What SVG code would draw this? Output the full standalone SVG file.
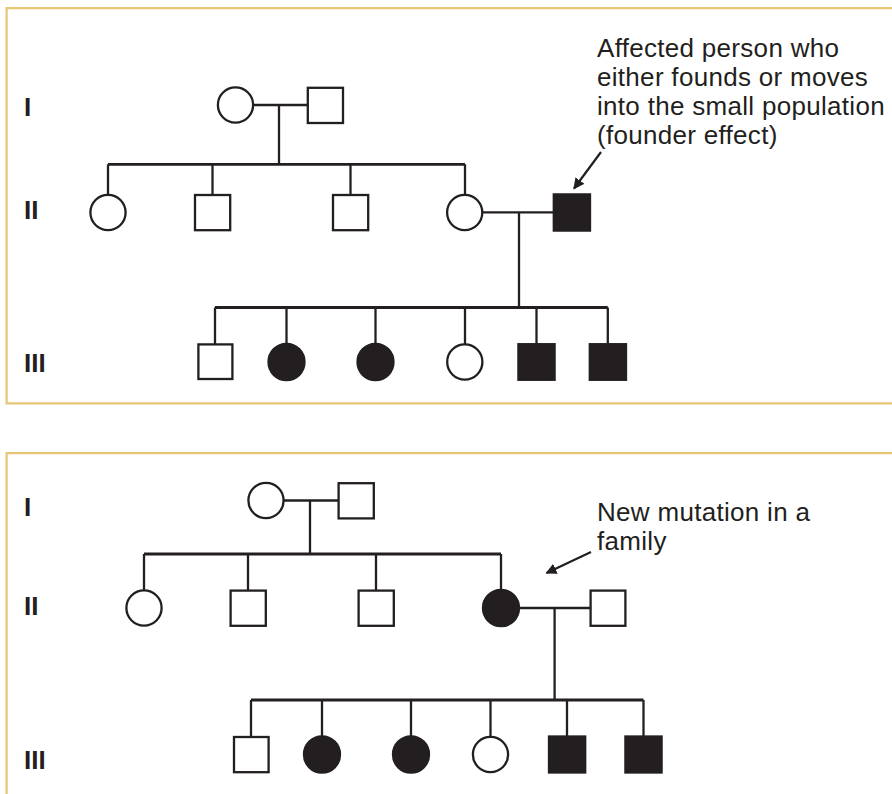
<svg xmlns="http://www.w3.org/2000/svg" width="892" height="794" viewBox="0 0 892 794">
  <defs>
    <style>
      .panel { fill: none; stroke: #e6c574; stroke-width: 2.2; }
      .line { fill: none; stroke: #231f20; stroke-width: 2.3; }
      .sib { fill: none; stroke: #231f20; stroke-width: 2.8; }
      .open { fill: #ffffff; stroke: #231f20; stroke-width: 2.3; }
      .filled { fill: #231f20; stroke: #231f20; stroke-width: 2.3; }
      .gen { font-family: "Liberation Sans", Arial, sans-serif; font-weight: bold; font-size: 26px; fill: #231f20; }
      .note { font-family: "Liberation Sans", Arial, sans-serif; font-size: 26px; letter-spacing: 0.3px; fill: #231f20; }
      .arrow { fill: none; stroke: #231f20; stroke-width: 2.2; }
    </style>
    <marker id="ah" viewBox="0 0 10 10" refX="9" refY="5" markerWidth="5" markerHeight="5" orient="auto" markerUnits="strokeWidth">
      <path d="M0,0 L10,5 L0,10 Z" fill="#231f20"/>
    </marker>
  </defs>
  <rect width="892" height="794" fill="#ffffff"/>

  <!-- Panel 1 -->
  <g id="panel1">
    <path class="panel" d="M900,8.2 H6.6 V403.3 H900"/>
    <text class="gen" x="24" y="115.6">I</text>
    <text class="gen" x="24" y="219.3">II</text>
    <text class="gen" x="24" y="371.7">III</text>
    <g id="p1-note">
      <text class="note" x="597" y="56.5">Affected person who</text>
      <text class="note" x="597" y="85.5">either founds or moves</text>
      <text class="note" x="597" y="114.5">into the small population</text>
      <text class="note" x="597" y="143.5">(founder effect)</text>
    </g>
    <g id="p1-connectors">
      <line class="line" x1="254" y1="105" x2="308" y2="105"/>
      <line class="line" x1="279" y1="105" x2="279" y2="164.3"/>
      <line class="sib" x1="108" y1="164.3" x2="465" y2="164.3"/>
      <line class="line" x1="108" y1="164.3" x2="108" y2="195"/>
      <line class="line" x1="212.5" y1="164.3" x2="212.5" y2="195"/>
      <line class="line" x1="350.5" y1="164.3" x2="350.5" y2="195"/>
      <line class="line" x1="465" y1="164.3" x2="465" y2="195"/>
      <line class="line" x1="483" y1="212.4" x2="553" y2="212.4"/>
      <line class="line" x1="519" y1="212.4" x2="519" y2="307.5"/>
      <line class="sib" x1="215" y1="307.5" x2="607.8" y2="307.5"/>
      <line class="line" x1="215" y1="307.5" x2="215" y2="344"/>
      <line class="line" x1="286.5" y1="307.5" x2="286.5" y2="344"/>
      <line class="line" x1="375.5" y1="307.5" x2="375.5" y2="344"/>
      <line class="line" x1="465" y1="307.5" x2="465" y2="344"/>
      <line class="line" x1="536.5" y1="307.5" x2="536.5" y2="344"/>
      <line class="line" x1="607.8" y1="307.5" x2="607.8" y2="344"/>
      <line class="arrow" x1="601" y1="152" x2="574" y2="188.5" marker-end="url(#ah)"/>
    </g>
    <g id="p1-I-1"><circle class="open" cx="235.5" cy="105" r="17.6"/></g>
    <g id="p1-I-2"><rect class="open" x="307.8" y="87.8" width="35.2" height="35.2"/></g>
    <g id="p1-II-1"><circle class="open" cx="108" cy="212.5" r="17.6"/></g>
    <g id="p1-II-2"><rect class="open" x="195" y="195" width="35.2" height="35.2"/></g>
    <g id="p1-II-3"><rect class="open" x="333" y="195" width="35.2" height="35.2"/></g>
    <g id="p1-II-4"><circle class="open" cx="464.7" cy="212.5" r="17.6"/></g>
    <g id="p1-II-5"><rect class="filled" x="553.8" y="194.4" width="36.2" height="36.2"/></g>
    <g id="p1-III-1"><rect class="open" x="198.4" y="344.4" width="34" height="34.6"/></g>
    <g id="p1-III-2"><ellipse class="filled" cx="286.5" cy="362" rx="18" ry="18.2"/></g>
    <g id="p1-III-3"><ellipse class="filled" cx="375.5" cy="362" rx="18" ry="18.2"/></g>
    <g id="p1-III-4"><circle class="open" cx="464.8" cy="362" r="17.6"/></g>
    <g id="p1-III-5"><rect class="filled" x="518.4" y="344.2" width="36.2" height="35.6"/></g>
    <g id="p1-III-6"><rect class="filled" x="589.8" y="344.2" width="36.2" height="35.6"/></g>
  </g>

  <!-- Panel 2 -->
  <g id="panel2">
    <path class="panel" d="M900,453.2 H6.6 V800"/>
    <text class="gen" x="24" y="515.7">I</text>
    <text class="gen" x="24" y="615.3">II</text>
    <text class="gen" x="24" y="768.7">III</text>
    <g id="p2-note">
      <text class="note" x="597" y="521">New mutation in a</text>
      <text class="note" x="597" y="549.5">family</text>
    </g>
    <g id="p2-connectors">
      <line class="line" x1="284" y1="500.5" x2="339" y2="500.5"/>
      <line class="line" x1="310" y1="500.5" x2="310" y2="554"/>
      <line class="sib" x1="144" y1="554" x2="501" y2="554"/>
      <line class="line" x1="144" y1="554" x2="144" y2="590"/>
      <line class="line" x1="248" y1="554" x2="248" y2="590"/>
      <line class="line" x1="376" y1="554" x2="376" y2="590"/>
      <line class="line" x1="501" y1="554" x2="501" y2="590"/>
      <line class="line" x1="519" y1="608" x2="591" y2="608"/>
      <line class="line" x1="554.6" y1="608" x2="554.6" y2="700"/>
      <line class="sib" x1="251" y1="700" x2="643.5" y2="700"/>
      <line class="line" x1="251" y1="700" x2="251" y2="737"/>
      <line class="line" x1="322" y1="700" x2="322" y2="737"/>
      <line class="line" x1="411" y1="700" x2="411" y2="737"/>
      <line class="line" x1="490.5" y1="700" x2="490.5" y2="737"/>
      <line class="line" x1="567" y1="700" x2="567" y2="737"/>
      <line class="line" x1="643.5" y1="700" x2="643.5" y2="737"/>
      <line class="arrow" x1="591" y1="552" x2="546.5" y2="573" marker-end="url(#ah)"/>
    </g>
    <g id="p2-I-1"><circle class="open" cx="266" cy="500.5" r="17.6"/></g>
    <g id="p2-I-2"><rect class="open" x="338.6" y="483.2" width="35.2" height="35.2"/></g>
    <g id="p2-II-1"><circle class="open" cx="144" cy="608" r="17.6"/></g>
    <g id="p2-II-2"><rect class="open" x="230.6" y="590.6" width="35.2" height="35.2"/></g>
    <g id="p2-II-3"><rect class="open" x="358.6" y="590.6" width="35.2" height="35.2"/></g>
    <g id="p2-II-4"><ellipse class="filled" cx="501" cy="608" rx="18" ry="18.2"/></g>
    <g id="p2-II-5"><rect class="open" x="590.6" y="590.6" width="34.8" height="35.2"/></g>
    <g id="p2-III-1"><rect class="open" x="234" y="737" width="34.6" height="35.2"/></g>
    <g id="p2-III-2"><ellipse class="filled" cx="322" cy="754.5" rx="18" ry="18.2"/></g>
    <g id="p2-III-3"><ellipse class="filled" cx="411" cy="754.5" rx="18" ry="18.2"/></g>
    <g id="p2-III-4"><circle class="open" cx="490.5" cy="754.5" r="17.6"/></g>
    <g id="p2-III-5"><rect class="filled" x="549" y="736.5" width="36.2" height="36"/></g>
    <g id="p2-III-6"><rect class="filled" x="625.4" y="736.5" width="36.2" height="36"/></g>
  </g>
</svg>
